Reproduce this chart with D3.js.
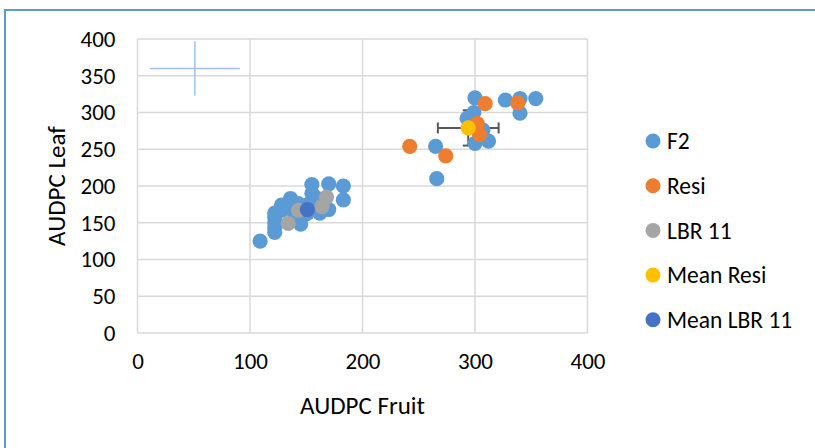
<!DOCTYPE html>
<html>
<head>
<meta charset="utf-8">
<script src="https://cdn.jsdelivr.net/npm/d3@7"></script>
<style>
  html, body { margin: 0; padding: 0; background: #fff; }
  svg { display: block; }
  text { font-family: Carlito, Calibri, Lato, sans-serif; fill: #000; }
</style>
</head>
<body>
<svg id="chart" width="815" height="448"></svg>
<script>
// AUDPC of fruit (x) vs leaf (y) per genotype group
const f2X = [109, 122, 122, 122, 122, 122, 128, 128, 136, 137, 143, 140, 145, 150, 153, 155, 155, 162, 170, 170, 183, 183, 158, 132,
             265, 266, 300, 327, 340, 354, 340, 299, 293, 300, 312, 307, 300];
const f2Y = [125, 137, 143, 150, 157, 163, 167, 174, 183, 176, 176, 160, 148, 162, 176, 190, 202, 163, 168, 203, 200, 181, 185, 170,
             254, 210, 320, 317, 319, 319, 299, 300, 292, 258, 261, 276, 285];
const resiX = [242, 274, 309, 338, 302, 304];
const resiY = [254, 241, 312, 313, 285, 270];
const lbrX = [134, 143, 164, 168];
const lbrY = [149, 167, 172, 185];
const meanResi = [294, 279];
const meanResiErr = [27, 24];
const meanLbr = [151, 168];
const meanLbrErr = [5, 11];
// stand-alone error cross in the upper-left corner
const crossCenter = [51, 360];
const crossErr = [40, 37];

const xTicks = [0, 100, 200, 300, 400];
const yTicks = [0, 50, 100, 150, 200, 250, 300, 350, 400];
const seriesNames = ["F2", "Resi", "LBR 11", "Mean Resi", "Mean LBR 11"];
const seriesColors = ["#5b9bd5", "#ed7d31", "#a5a5a5", "#ffc000", "#4472c4"];

const zip = (xs, ys) => xs.map((v, i) => [v, ys[i]]);
const seriesData = [
  zip(f2X, f2Y),
  zip(resiX, resiY),
  zip(lbrX, lbrY),
  [meanResi],
  [meanLbr]
];

const svg = d3.select("#chart");
const x = d3.scaleLinear().domain([0, 400]).range([137.5, 587.5]);
const y = d3.scaleLinear().domain([0, 400]).range([333, 39]);
const R = 7.6;
const FONT = "Carlito, Calibri, Lato, sans-serif";

// chart frame
svg.append("path")
  .attr("d", "M5,460 L5,10 L830,10")
  .attr("fill", "none").attr("stroke", "#5b9bd5").attr("stroke-width", 2);

// gridlines
const grid = svg.append("g").attr("stroke", "#d9d9d9").attr("stroke-width", 1.5);
grid.selectAll("line.v").data(xTicks).join("line")
  .attr("x1", d => x(d)).attr("x2", d => x(d))
  .attr("y1", y(400)).attr("y2", y(0));
grid.selectAll("line.h").data(yTicks).join("line")
  .attr("x1", x(0)).attr("x2", x(400))
  .attr("y1", d => y(d)).attr("y2", d => y(d));

// axes (labels only)
const xAxis = svg.append("g").attr("transform", `translate(0,${y(0) + 20})`)
  .call(d3.axisBottom(x).tickValues(xTicks).tickSize(0).tickPadding(0));
xAxis.select(".domain").remove();
xAxis.selectAll("text").attr("font-size", 23).attr("dy", "0.71em")
  .style("font-family", FONT).attr("fill", "#000");

const yAxis = svg.append("g").attr("transform", `translate(${x(0) - 22},0)`)
  .call(d3.axisLeft(y).tickValues(yTicks).tickSize(0).tickPadding(0));
yAxis.select(".domain").remove();
yAxis.selectAll("text").attr("font-size", 23)
  .style("font-family", FONT).attr("fill", "#000");

// axis titles
svg.append("text").attr("x", (x(0) + x(400)) / 2).attr("y", 414)
  .attr("text-anchor", "middle").attr("font-size", 25).text("AUDPC Fruit");
svg.append("text")
  .attr("transform", `translate(65,${(y(0) + y(400)) / 2}) rotate(-90)`)
  .attr("text-anchor", "middle").attr("font-size", 25).text("AUDPC Leaf");

// error bars
function errorBars(c, e, color, width, cap) {
  const g = svg.append("g").attr("stroke", color).attr("stroke-width", width).attr("fill", "none");
  g.append("line").attr("x1", x(c[0] - e[0])).attr("x2", x(c[0] + e[0])).attr("y1", y(c[1])).attr("y2", y(c[1]));
  g.append("line").attr("x1", x(c[0])).attr("x2", x(c[0])).attr("y1", y(c[1] - e[1])).attr("y2", y(c[1] + e[1]));
  if (cap > 0) {
    [c[0] - e[0], c[0] + e[0]].forEach(v => g.append("line")
      .attr("x1", x(v)).attr("x2", x(v)).attr("y1", y(c[1]) - cap).attr("y2", y(c[1]) + cap));
    [c[1] - e[1], c[1] + e[1]].forEach(v => g.append("line")
      .attr("x1", x(c[0]) - cap).attr("x2", x(c[0]) + cap).attr("y1", y(v)).attr("y2", y(v)));
  }
}
errorBars(crossCenter, crossErr, "#9dc3e6", 1.5, 0);
errorBars(meanResi, meanResiErr, "#595959", 2, 5.5);
errorBars(meanLbr, meanLbrErr, "#595959", 2, 5.5);

// markers
seriesData.forEach((pts, i) => {
  svg.append("g").selectAll("circle").data(pts).join("circle")
    .attr("cx", d => x(d[0])).attr("cy", d => y(d[1])).attr("r", R)
    .attr("fill", seriesColors[i]);
});

// legend
const legend = svg.append("g");
seriesNames.forEach((name, i) => {
  const ly = 141 + i * 44.7;
  legend.append("circle").attr("cx", 653).attr("cy", ly).attr("r", 7.5).attr("fill", seriesColors[i]);
  legend.append("text").attr("x", 667).attr("y", ly).attr("dy", "0.35em")
    .attr("font-size", 23.5).text(name);
});
</script>
</body>
</html>
